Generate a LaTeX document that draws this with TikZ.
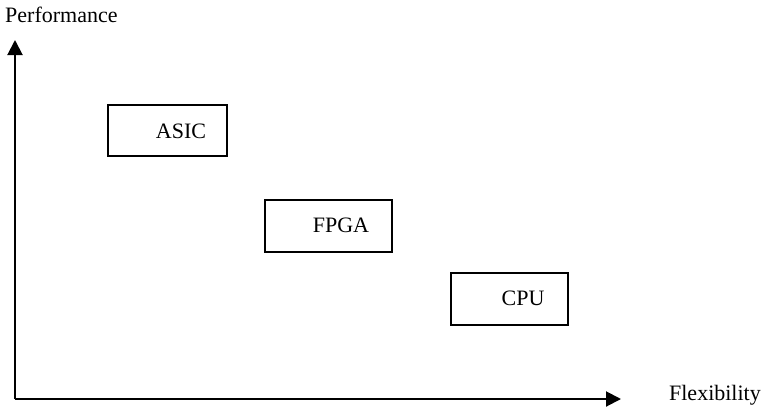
\documentclass[tikz,border=0pt]{standalone}
\usepackage{fontspec}
\setmainfont{Liberation Serif}
\usetikzlibrary{arrows.meta}
\begin{document}
\begin{tikzpicture}[x=1pt,y=-1pt,
  lbl/.style={font=\fontsize{22}{26}\selectfont, inner sep=0pt},
  axis/.style={line width=2pt, -{Triangle[length=15pt,width=15pt]}},
  box/.style={draw, line width=1.2pt}]
\useasboundingbox (0,0) rectangle (763,410);
\coordinate (O) at (15,399);
\coordinate (Y) at (15,40);
\coordinate (X) at (621,399);
\draw[axis] (O) -- (Y);
\draw[axis] (O) -- (X);
\node[lbl, anchor=base west] (perf) at (5,22) {Performance};
\node[lbl, anchor=base east] (flex) at (761,400) {Flexibility};
\draw[box] (108,105) rectangle (227,156);
\node[lbl, anchor=base] (asic) at (181,138) {ASIC};
\draw[box] (265,200) rectangle (392,252);
\node[lbl, anchor=base] (fpga) at (341,232) {FPGA};
\draw[box] (451,273) rectangle (568,325);
\node[lbl, anchor=base] (cpu) at (523,305) {CPU};
\end{tikzpicture}
\end{document}
